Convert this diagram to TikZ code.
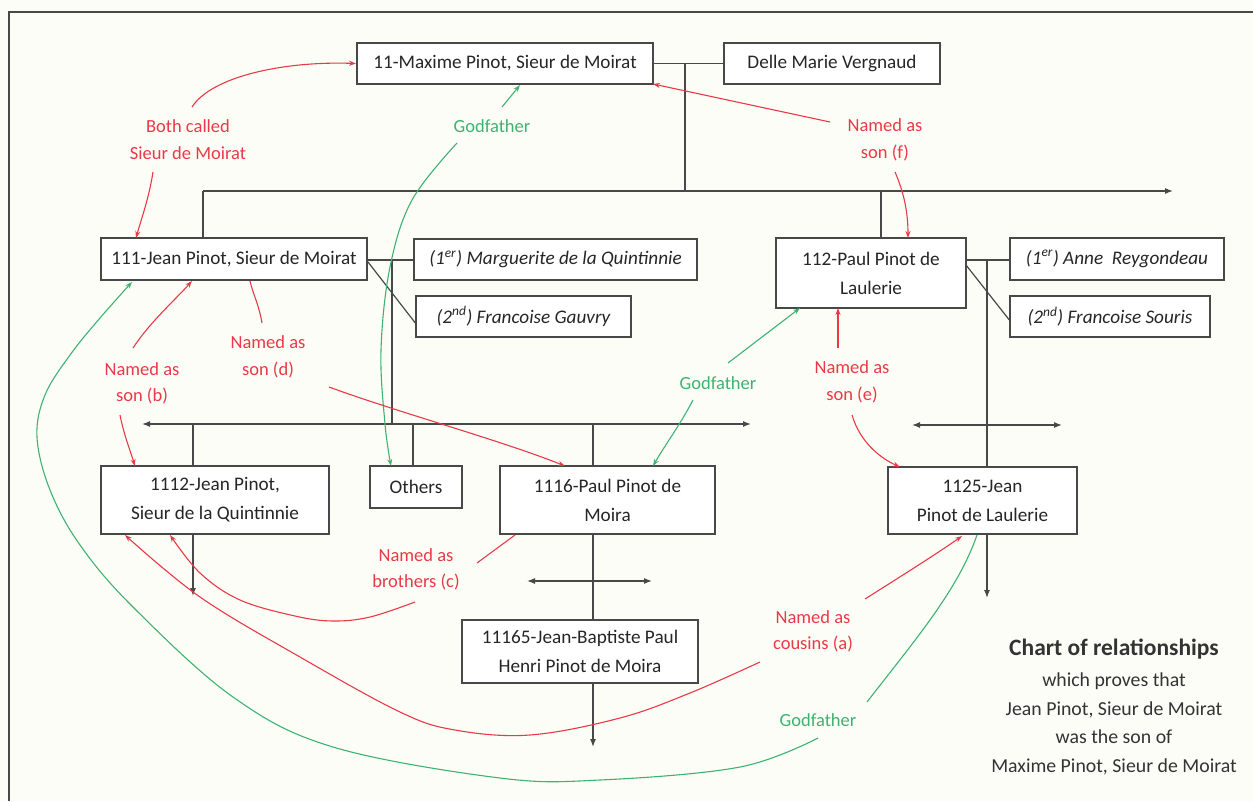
\documentclass[tikz,border=0pt]{standalone}
\usepackage{fontspec}
\setmainfont{Carlito}
\usetikzlibrary{arrows.meta,calc}
\definecolor{bg}{RGB}{253,253,248}
\definecolor{boxc}{RGB}{72,72,72}
\definecolor{redc}{RGB}{232,58,70}
\definecolor{greenc}{RGB}{62,178,112}
\begin{document}
\begin{tikzpicture}[x=1pt,y=-1pt,
  box/.style={draw=boxc,line width=1.3pt,fill=white,inner sep=0pt,align=center,text=black!85,
    font=\fontsize{19.2}{29}\selectfont},
  sbox/.style={box,font=\fontsize{19.2}{29}\selectfont\itshape},
  lbl/.style={align=center,inner sep=0pt,font=\fontsize{18.5}{26.5}\selectfont},
  rlbl/.style={lbl,text=redc},
  glbl/.style={lbl,text=greenc},
  kline/.style={draw=boxc,line width=1.2pt},
  thick line/.style={draw=boxc,line width=2.6pt},
  karr/.style={kline,-{Latex[length=8pt,width=6pt]}},
  kdarr/.style={kline,{Latex[length=8pt,width=6pt]}-{Latex[length=8pt,width=6pt]}},
  rarr/.style={draw=redc,line width=1.1pt,-{Stealth[length=7pt,width=5pt]}},
  rline/.style={draw=redc,line width=1.1pt},
  garr/.style={draw=greenc,line width=1.1pt,-{Stealth[length=7pt,width=5pt]}},
  gline/.style={draw=greenc,line width=1.1pt},
  ttl/.style={align=center,inner sep=0pt,text=black!80,font=\fontsize{19.8}{28.5}\selectfont}
]
\useasboundingbox (0,0) rectangle (1253,801);
\fill[bg] (0,0) rectangle (1253,801);
\draw[boxc,line width=1.3pt] (9,801) -- (9,12) -- (1253,12);

% ---------- boxes ----------
\node[box,line width=2pt,minimum width=296,minimum height=41] (maxime) at (505,63.5) {11-Maxime Pinot, Sieur de Moirat};
\node[box,line width=1.8pt,minimum width=216,minimum height=41] (delle) at (832,63.5) {Delle Marie Vergnaud};
\node[box,minimum width=266,minimum height=42] (jean) at (234,259) {111-Jean Pinot, Sieur de Moirat};
\node[sbox,minimum width=283,minimum height=41] (marg) at (555.5,259.5) {(1\textsuperscript{er}) Marguerite de la Quintinnie};
\node[sbox,minimum width=215,minimum height=41] (gauvry) at (523.5,316.5) {(2\textsuperscript{nd}) Francoise Gauvry};
\node[box,minimum width=190,minimum height=70] (paul) at (871,273) {112-Paul Pinot de\\Laulerie};
\node[sbox,minimum width=214,minimum height=42] (anne) at (1117,259) {(1\textsuperscript{er}) Anne\ \ Reygondeau};
\node[sbox,minimum width=200,minimum height=41] (souris) at (1110,316.5) {(2\textsuperscript{nd}) Francoise Souris};
\node[box,minimum width=228,minimum height=68] (quint) at (215,500) {1112-Jean Pinot,\\Sieur de la Quintinnie};
\node[box,minimum width=92,minimum height=42] (others) at (416,487) {Others};
\node[box,minimum width=215,minimum height=68] (moira) at (607.5,500) {1116-Paul Pinot de\\Moira};
\node[box,line width=2.2pt,minimum width=236,minimum height=63] (jb) at (580,651.5) {11165-Jean-Baptiste Paul\\Henri Pinot de Moira};
\node[box,minimum width=189,minimum height=67] (laul) at (982.5,500.5) {1125-Jean\\Pinot de Laulerie};

% ---------- title ----------
\node[ttl,font=\fontsize{23.5}{28}\bfseries] (title) at (1114,649) {Chart of relationships};
\node[ttl] (sub) at (1114,724) {which proves that\\Jean Pinot, Sieur de Moirat\\was the son of\\Maxime Pinot, Sieur de Moirat};

% ---------- family lines ----------
\coordinate (m1) at (685,63.5);
\coordinate (m2) at (685,191);
\coordinate (hL) at (203,191);
\coordinate (hR) at (1173,191);
\draw[kline] (maxime.east) -- (delle.west);
\draw[kline] (m1) -- (m2);
\draw[karr] (hL) -- (hR);
\draw[kline] (hL) -- (hL |- jean.north);
\draw[kline] (881,191) coordinate (p0) -- (p0 |- paul.north);

% Jean's marriages and children
\coordinate (j1) at (392,260);
\coordinate (j2) at (392,424);
\coordinate (cL) at (142,424);
\coordinate (cR) at (751,424);
\draw[kline] (jean.east |- j1) -- (marg.west |- j1);
\draw[thick line] (j1) -- (j2);
\draw[kline] (368,262) coordinate (jd) -- (gauvry.west |- 0,323);
\draw[kdarr] (cL) -- (cR);
\draw[kline] (193,424) coordinate (q0) -- (q0 |- quint.north);
\draw[thick line] (413,424) coordinate (o0) -- (o0 |- others.north);
\draw[kline] (593,424) coordinate (mo0) -- (mo0 |- moira.north);
\draw[karr] (q0 |- quint.south) -- (193,596) coordinate (qe);
\draw[kline] (mo0 |- moira.south) -- (mo0 |- jb.north);
\draw[kdarr] (527,581) coordinate (jl) -- (652,581) coordinate (jr);
\draw[karr] (mo0 |- jb.south) -- (593,747) coordinate (jbe);

% Paul's marriages and children
\coordinate (p1) at (987,260);
\draw[kline] (paul.east |- p1) -- (anne.west |- p1);
\draw[kline] (p1) -- (p1 |- laul.north);
\draw[kline] (966,265) coordinate (pd) -- (souris.west |- 0,320);
\draw[kdarr] (912,425) coordinate (pl) -- (1062,425) coordinate (pr);
\draw[karr] (p1 |- laul.south) -- (987,598) coordinate (le);

% ---------- relationship labels ----------
\node[rlbl] (lBoth) at (188,139.5) {Both called\\Sieur de Moirat};
\node[glbl] (lG1) at (492,126) {Godfather};
\node[rlbl] (lF) at (885,140) {Named as\\son (f)};
\node[rlbl] (lB) at (142,383.5) {Named as\\son (b)};
\node[rlbl] (lD) at (268,357) {Named as\\son (d)};
\node[glbl] (lG2) at (718,383) {Godfather};
\node[rlbl] (lE) at (852,382) {Named as\\son (e)};
\node[rlbl] (lC) at (416,569.5) {Named as\\brothers (c)};
\node[rlbl] (lA) at (813,631.5) {Named as\\cousins (a)};
\node[glbl] (lG3) at (818,720) {Godfather};

% ---------- relationship connectors ----------
% Both called
\draw[rarr] (192,107) .. controls (212,76) and (285,61) .. (maxime.west);
\draw[rarr] (153,172) .. controls (149,198) and (141,220) .. (136,238);
% Godfather 1
\draw[garr] (502,107) -- (520,85);
\draw[garr] plot[smooth,tension=0.6] coordinates {(457,143) (412,200) (390,267) (381,350) (385,424) (391,466)};
% son (f)
\draw[rarr] (830,122) -- (653,84);
\draw[rarr] (895,172) .. controls (905,195) and (908,215) .. (908,238);
% son (b)
\draw[rarr] (133,348) .. controls (150,322) and (175,300) .. (192,281);
\draw[rarr] (120,415) .. controls (124,435) and (130,450) .. (135,466);
% son (d)
\draw[rline] (262,323) .. controls (259,305) and (253,294) .. (250,281);
\draw[rarr] (329,387) .. controls (400,413) and (500,440) .. (565,466);
% Godfather 2
\draw[garr] (728,363) -- (800,308);
\draw[garr] (693,400) .. controls (680,425) and (665,445) .. (653,466);
% son (e)
\draw[rarr] (838,348) -- (838,308);
\draw[rarr] (852,415) .. controls (860,442) and (880,458) .. (900,467);
% brothers (c)
\draw[rline] (477,563) -- (515,535);
\draw[rarr] plot[smooth,tension=0.6] coordinates {(415,602) (370,617) (333,621) (295,616) (240,600) (200,573) (170,535)};
% cousins (a)
\draw[rarr] (865,599) .. controls (895,580) and (935,555) .. (962,536);
\draw[rarr] plot[smooth,tension=0.6] coordinates {(760,662) (690,693) (620,718) (530,735) (455,730) (400,712) (300,657) (200,597) (125,535)};
% Godfather 3
\draw[gline] (867,702) .. controls (915,640) and (958,590) .. (977,535);
\draw[garr] plot[smooth,tension=0.6] coordinates {(818,738) (740,767) (600,780) (500,778) (333,747) (233,697) (133,607) (80,545) (50,490) (37,437) (45,395) (70,355) (100,318) (132,282)};
\end{tikzpicture}
\end{document}
